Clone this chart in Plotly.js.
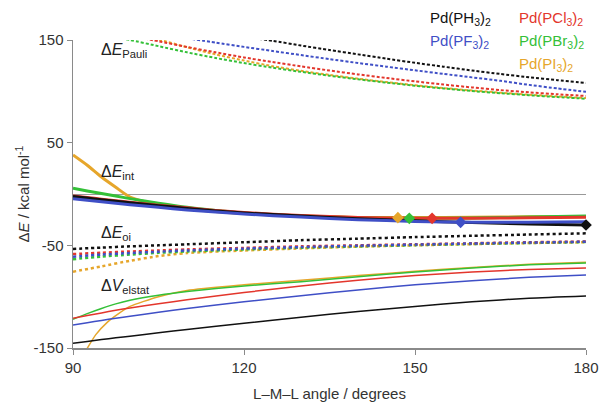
<!DOCTYPE html>
<html>
<head>
<meta charset="utf-8">
<script src="https://cdn.plot.ly/plotly-3.0.1.min.js"></script>
<style>html,body{margin:0;padding:0;background:#fff;}#chart{width:600px;height:404px;}</style>
</head>
<body>
<div id="chart"></div>
<script>
// ---- data ----
const names = ["Pd(PH<sub>3</sub>)<sub>2</sub>", "Pd(PCl<sub>3</sub>)<sub>2</sub>", "Pd(PF<sub>3</sub>)<sub>2</sub>", "Pd(PBr<sub>3</sub>)<sub>2</sub>", "Pd(PI<sub>3</sub>)<sub>2</sub>"];
const colors = ["#111111", "#e3362c", "#3f4fc6", "#34c038", "#e6a62b"];

// Delta E_Pauli (dashed)
const pauliAngPH3 = [120, 125, 130, 135, 140, 145, 150, 155, 160, 165, 170, 175, 180];
const pauliPH3 = [153, 149.2, 144.6, 140.3, 136, 131.8, 127.8, 124, 120.3, 116.9, 113.7, 110.9, 108.2];
const pauliAngPCl3 = [100, 105, 110, 115, 120, 125, 130, 135, 140, 145, 150, 155, 160, 165, 170, 175, 180];
const pauliPCl3 = [154, 148.8, 143.2, 138, 133, 128.5, 124.3, 120.3, 116.5, 113, 109.7, 106.6, 103.8, 101.2, 99, 97.1, 95.5];
const pauliAngPF3 = [110, 115, 120, 125, 130, 135, 140, 145, 150, 155, 160, 165, 170, 175, 180];
const pauliPF3 = [151.6, 147.5, 143.3, 139.3, 135.3, 131.4, 127.6, 124, 120.5, 117, 113.6, 110.2, 106.3, 102.8, 99.5];
const pauliAngPBr3 = [95, 100, 105, 110, 115, 120, 125, 130, 135, 140, 145, 150, 155, 160, 165, 170, 175, 180];
const pauliPBr3 = [155, 150, 144, 138, 132.5, 127.5, 123, 119, 115.2, 111.7, 108.5, 105.5, 102.8, 100.3, 98.2, 96.2, 94.4, 92.8];
const pauliAngPI3 = [100, 105, 110, 115, 120, 125, 130, 135, 140, 145, 150, 155, 160, 165, 170, 175, 180];
const pauliPI3 = [157, 150.5, 143, 136, 130, 124.5, 120, 116, 112.3, 109, 106, 103.2, 100.8, 98.7, 96.7, 95, 93.5];

// Delta E_int (thick solid)
const intAng = [90, 92.5, 95, 97.5, 100, 105, 110, 115, 120, 130, 140, 150, 160, 170, 180];
const intPH3 = [-2.5, -4, -5.5, -7, -8.5, -11.5, -14, -16.5, -18.5, -21.5, -24, -26, -27.8, -29.2, -30.3];
const intPCl3 = [-2, -3.5, -5, -6.5, -8, -11, -13.5, -16, -18, -21, -22.8, -23.6, -23.6, -23.2, -22.6];
const intPF3 = [-4.5, -6, -7.5, -9, -10.5, -13, -15.5, -17.5, -19.5, -22.5, -25, -26.7, -27.6, -27.4, -27];
const intPBr3 = [5.5, 3, 0.5, -2, -4.5, -9, -13, -16, -18.5, -21.5, -23.2, -23.7, -23.3, -22.5, -21.5];
const intPI3 = [38, 28, 16.5, 6.5, -3, -10.8, -14.5, -17, -19, -21.5, -22.8, -23, -22.6, -22.2, -21.8];
// minima of Delta E_int (diamonds)
const minAng = [180, 153, 158, 149, 147];
const minVal = [-30.2, -23.7, -27.6, -23.7, -23.1];

// Delta E_oi (dotted)
const oiAng = [90, 95, 100, 105, 110, 120, 130, 140, 150, 160, 170, 180];
const oiPH3 = [-53.5, -52.2, -51, -50, -49, -47, -45, -43.5, -42, -40.7, -39.5, -38.3];
const oiPCl3 = [-58.5, -57.2, -56, -55, -54, -52.5, -51, -50, -49, -48, -47, -46.3];
const oiPF3 = [-61, -59, -57.5, -56.2, -55, -53.2, -51.7, -50.4, -49.3, -48.2, -47.3, -46.5];
const oiPBr3 = [-63.5, -61, -59, -57.3, -56, -54, -52.3, -51, -49.8, -48.7, -47.7, -46.8];
const oiPI3 = [-75.7, -70.5, -65, -60.5, -57.5, -55, -53, -51.3, -50, -48.8, -47.8, -47];

// Delta V_elstat (thin solid)
const elAng = [90, 92.5, 95, 97.5, 100, 105, 110, 120, 130, 140, 150, 160, 170, 180];
const elPH3 = [-145.4, -143.6, -141.8, -140.1, -138.5, -135.2, -132, -126, -120, -114.5, -109.5, -105, -101.5, -99.3];
const elPCl3 = [-121, -118.3, -115.8, -113.3, -111, -107, -103, -96, -89.5, -84, -79.5, -76, -73.5, -72];
const elPF3 = [-127.6, -125.3, -123.2, -121, -119, -115.2, -111.5, -105, -99, -93.5, -88.5, -84.5, -81.2, -79];
const elPBr3 = [-122, -116.5, -111.5, -107, -103.5, -98.6, -95, -89.5, -85.5, -80.5, -76, -72, -69, -67.2];
const elAngPI3 = [92, 94, 96, 98, 100, 105, 110, 120, 130, 140, 150, 160, 170, 180];
const elPI3 = [-155, -137, -125, -116.5, -109.5, -100, -94, -88.5, -84, -79.5, -75.3, -71.5, -68.5, -66.5];

const xTicks = [90, 120, 150, 180];
const yTicks = [-150, -50, 50, 150];

// ---- traces ----
const traces = [];
const pauliX = [pauliAngPH3, pauliAngPCl3, pauliAngPF3, pauliAngPBr3, pauliAngPI3];
const pauliY = [pauliPH3, pauliPCl3, pauliPF3, pauliPBr3, pauliPI3];
const intY = [intPH3, intPCl3, intPF3, intPBr3, intPI3];
const oiY = [oiPH3, oiPCl3, oiPF3, oiPBr3, oiPI3];
const elX = [elAng, elAng, elAng, elAng, elAngPI3];
const elY = [elPH3, elPCl3, elPF3, elPBr3, elPI3];
const drawOrder = [4, 3, 1, 0, 2];

drawOrder.forEach(i => traces.push({x: pauliX[i], y: pauliY[i], mode: 'lines', line: {color: colors[i], width: 2, dash: '3px,2px', shape: 'spline', smoothing: 0.6}, hoverinfo: 'skip'}));
drawOrder.forEach(i => traces.push({x: oiAng, y: oiY[i], mode: 'lines', line: {color: colors[i], width: 2.5, dash: 'dot', shape: 'spline', smoothing: 0.6}, hoverinfo: 'skip'}));
drawOrder.forEach(i => traces.push({x: elX[i], y: elY[i], mode: 'lines', line: {color: colors[i], width: 1.5, shape: 'spline', smoothing: 0.6}, hoverinfo: 'skip'}));
[4, 3, 1, 0, 2].forEach(i => traces.push({x: intAng, y: intY[i], mode: 'lines', line: {color: colors[i], width: 3, shape: 'spline', smoothing: 0.6}, hoverinfo: 'skip'}));
[0, 1, 2, 3, 4].forEach(i => traces.push({x: [minAng[i]], y: [minVal[i]], mode: 'markers', marker: {symbol: 'diamond', size: 9, color: colors[i]}, cliponaxis: false, hoverinfo: 'skip'}));

// ---- labels ----
const FONT = 'Liberation Sans, Arial, Helvetica, sans-serif';
const annotations = [
  {text: 'Δ<i>E</i><sub>Pauli</sub>', x: 94.6, y: 140},
  {text: 'Δ<i>E</i><sub>int</sub>', x: 94.6, y: 21},
  {text: 'Δ<i>E</i><sub>oi</sub>', x: 94.6, y: -38},
  {text: 'Δ<i>V</i><sub>elstat</sub>', x: 94.6, y: -90}
].map(a => Object.assign(a, {xref: 'x', yref: 'y', xanchor: 'left', yanchor: 'middle', showarrow: false, font: {family: FONT, size: 16, color: '#222'}}));

const legendPos = [[0.692, 1.071], [0.865, 1.071], [0.692, 0.994], [0.865, 0.994], [0.865, 0.922]];
names.forEach((n, i) => annotations.push({text: n, xref: 'paper', yref: 'paper', x: legendPos[i][0], y: legendPos[i][1], xanchor: 'left', yanchor: 'middle', showarrow: false, font: {family: FONT, size: 15, color: colors[i]}}));

const layout = {
  width: 600, height: 404,
  margin: {l: 73, r: 14, t: 40, b: 56},
  paper_bgcolor: '#fff', plot_bgcolor: '#fff',
  showlegend: false,
  font: {family: FONT, size: 14, color: '#333'},
  xaxis: {
    range: [90, 180], tickvals: xTicks, ticktext: xTicks.map(String),
    showline: true, linecolor: '#8a8a8a', linewidth: 1.5, ticks: 'outside', ticklen: 5, tickcolor: '#8a8a8a',
    showgrid: false, zeroline: false, automargin: false,
    tickfont: {family: FONT, size: 15, color: '#333'},
    title: {text: 'L–M–L angle / degrees', font: {family: FONT, size: 15, color: '#333'}, standoff: 14}
  },
  yaxis: {
    range: [-150, 150], tickvals: yTicks, ticktext: yTicks.map(String),
    showline: true, linecolor: '#8a8a8a', linewidth: 1.5, ticks: 'outside', ticklen: 5, tickcolor: '#8a8a8a',
    showgrid: false, zeroline: true, zerolinecolor: '#999', zerolinewidth: 1, automargin: false,
    tickfont: {family: FONT, size: 15, color: '#333'},
    title: {text: 'Δ<i>E</i> / kcal mol<sup>-1</sup>', font: {family: FONT, size: 15, color: '#333'}, standoff: 0}
  },
  annotations: annotations
};

Plotly.newPlot('chart', traces, layout, {displayModeBar: false, staticPlot: true});
</script>
</body>
</html>
